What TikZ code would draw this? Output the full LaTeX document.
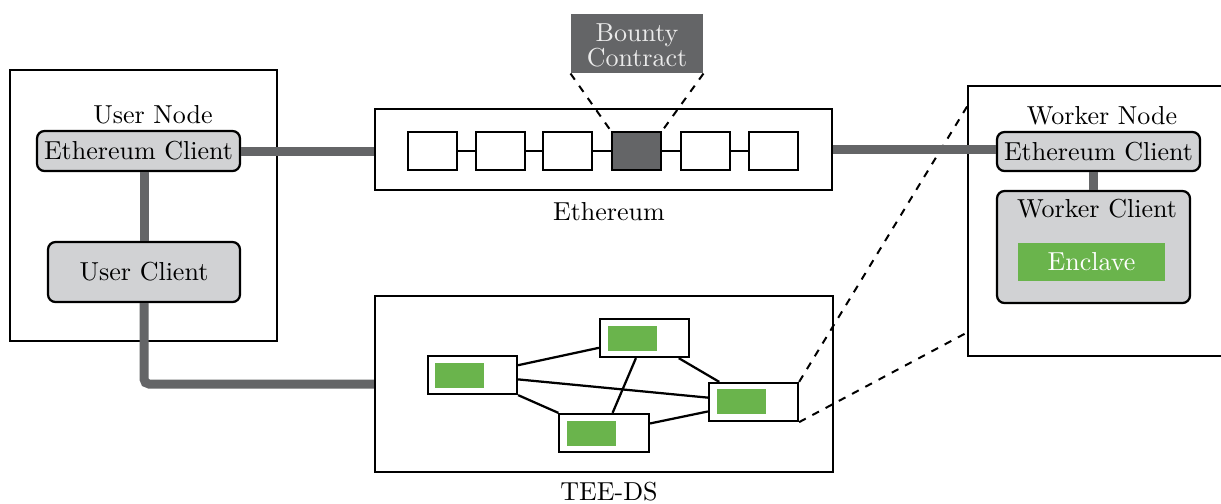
\documentclass[tikz,border=0pt]{standalone}
\usetikzlibrary{fit}
\definecolor{lgray}{HTML}{D1D2D4}
\definecolor{dgray}{HTML}{646567}
\definecolor{egreen}{HTML}{6AB44C}
\begin{document}
\begin{tikzpicture}[x=0.4pt,y=-0.4pt,
  box/.style={draw,line width=0.9pt,inner sep=0pt},
  client/.style={draw,line width=0.9pt,fill=lgray,rounded corners=3pt,inner sep=0pt},
  blk/.style={draw,line width=0.9pt,fill=white,inner sep=0pt},
  green/.style={fill=egreen,draw=none,inner sep=0pt},
  thick link/.style={draw=dgray,line width=3.6pt},
  thin link/.style={draw,line width=0.9pt},
  zoomline/.style={draw,dashed,line width=0.8pt},
  lbl/.style={font={\fontsize{10.4}{12}\selectfont},inner sep=0pt}]
\useasboundingbox (0,0) rectangle (1221,503);
\clip (0,0) rectangle (1221,503);

% User node
\node[box,fit={(10,70) (277,341)}] (un) {};
\node[lbl] (unl) at (153,115) {User Node};
\node[client,fit={(37,131) (240,171)}] (ue) {};
\node[lbl] (uet) at (ue.center) {Ethereum Client};
\node[client,fit={(48,242) (240,302)}] (uc) {};
\node[lbl] (uct) at (uc.center) {User Client};

% Ethereum
\node[box,fit={(375,109) (832,190)}] (eth) {};
\node[lbl] (ethl) at (609,212) {Ethereum};
\foreach \i/\x in {1/408,2/476,3/543,5/681,6/749}{
  \node[blk,fit={(\x,132) (\x+49,170)}] (b\i) {};
}
\node[blk,fill=dgray,fit={(612,132) (661,170)}] (b4) {};
\foreach \a/\b in {1/2,2/3,3/4,4/5,5/6}{
  \draw[thin link] (b\a.east) -- (b\b.west);
}
\node[fill=dgray,inner sep=0pt,fit={(571,14) (703,73)}] (bc) {};
\node[text=white!92!black,align=center,font={\fontsize{10.4}{10}\selectfont}] (bct) at (637,45) {Bounty\\Contract};
\draw[zoomline] (bc.south west) -- (b4.north west);
\draw[zoomline] (bc.south east) -- (b4.north east);

% TEE-DS
\node[box,fit={(375,296) (833,472)}] (tee) {};
\node[lbl] (teel) at (609,492) {TEE-DS};
\node[blk,fit={(428,356) (517,394)}] (ta) {};
\node[blk,fit={(600,319) (689,357)}] (tb) {};
\node[blk,fit={(559,414) (649,452)}] (tc) {};
\node[blk,fit={(709,383) (798,421)}] (td) {};
\node[green,fit={(435,363) (484,388)}] (ga) {};
\node[green,fit={(608,326) (657,351)}] (gb) {};
\node[green,fit={(567,421) (616,446)}] (gc) {};
\node[green,fit={(717,389) (766,414)}] (gd) {};
\draw[thin link] (ta) -- (tb);
\draw[thin link] (ta) -- (tc);
\draw[thin link] (ta) -- (td);
\draw[thin link] (tb) -- (tc);
\draw[thin link] (tb) -- (td);
\draw[thin link] (tc) -- (td);

% Worker node
\node[box,fit={(968,86) (1245,356)}] (wn) {};
\node[lbl] (wnl) at (1102,116) {Worker Node};
\node[client,fit={(997,132) (1200,171)}] (we) {};
\node[lbl] (wet) at (we.center) {Ethereum Client};
\node[client,fit={(997,191) (1190,303)}] (wc) {};
\node[lbl] (wcl) at (1097,209) {Worker Client};
\node[green,fit={(1018,243) (1165,281)}] (enc) {};
\node[lbl,text=white] (encl) at (enc.center) {Enclave};
\coordinate (wtop) at (968,105);
\coordinate (wbot) at (968,332);
\draw[zoomline] (td.north east) -- (wtop);
\draw[zoomline] (td.south east) -- (wbot);

% thick links
\draw[thick link] (ue.east) -- (ue.east -| eth.west);
\draw[thick link] (uc.north) -- (uc.north |- ue.south);
\draw[thick link,rounded corners=2pt] (uc.south) |- (tee.west);
\draw[thick link] (eth.east) -- (eth.east -| we.west);
\draw[thick link] (wc.north) -- (wc.north |- we.south);
\end{tikzpicture}
\end{document}
